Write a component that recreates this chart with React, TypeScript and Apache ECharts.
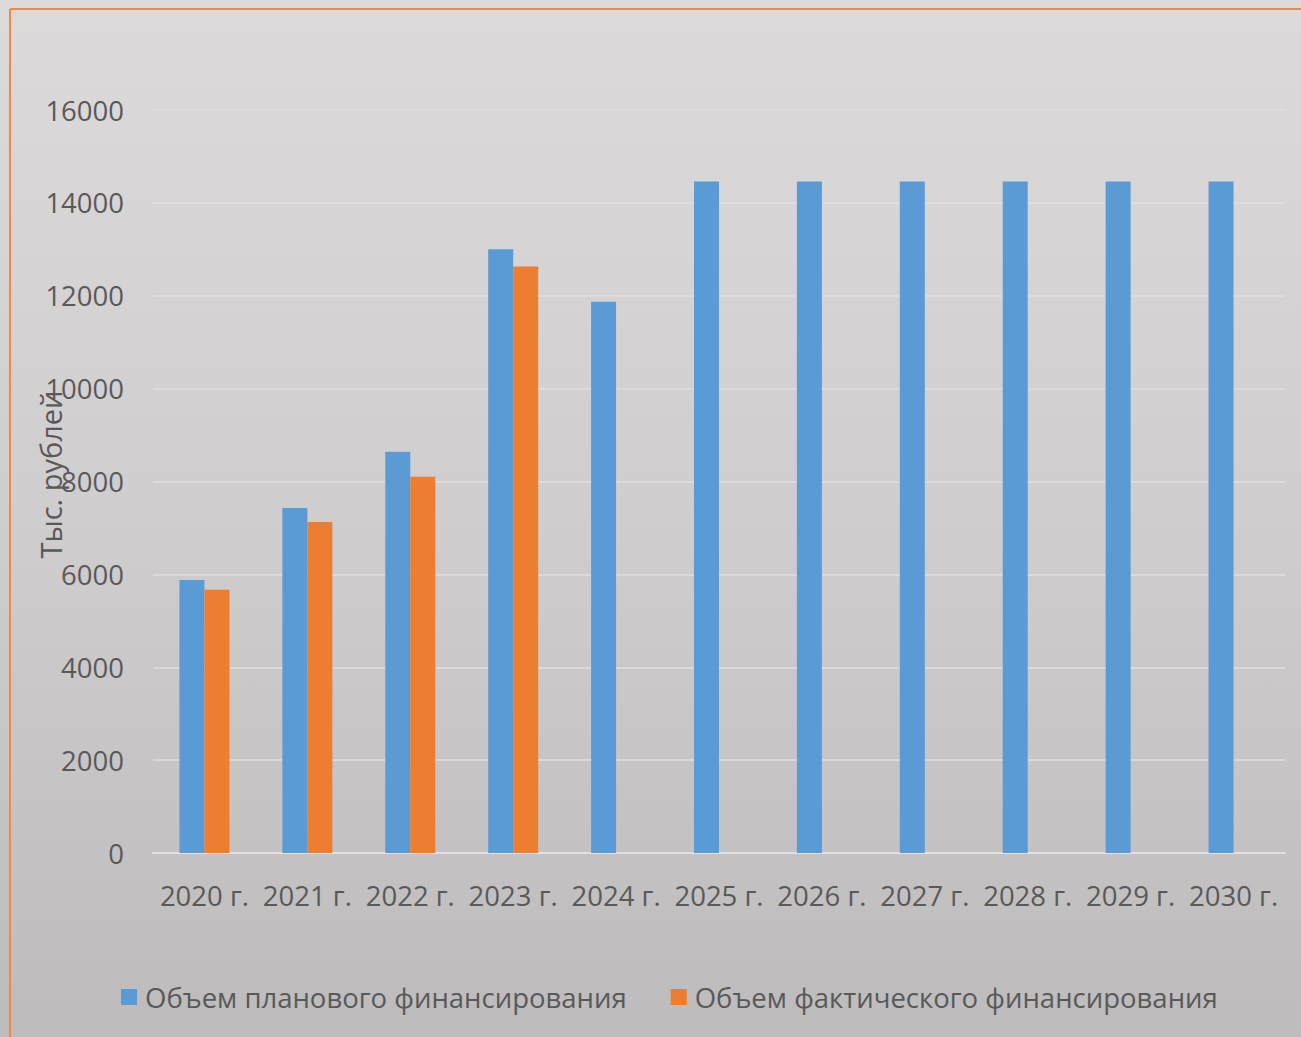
import React, { useEffect, useRef } from "react";
import * as echarts from "echarts";

const categories = ["2020 г.", "2021 г.", "2022 г.", "2023 г.", "2024 г.", "2025 г.", "2026 г.", "2027 г.", "2028 г.", "2029 г.", "2030 г."];
const planned = [5880, 7430, 8640, 13000, 11870, 14460, 14460, 14460, 14460, 14460, 14460];
const actual = [5670, 7130, 8100, 12630, null, null, null, null, null, null, null];
const seriesNames = ["Объем планового финансирования", "Объем фактического финансирования"];
const yAxisTitle = "Тыс. рублей";

const FONT = "'Open Sans', sans-serif";
const TEXT = "#595959";

export default function App() {
  const ref = useRef<HTMLDivElement>(null);
  useEffect(() => {
    const chart = echarts.init(ref.current!, null, { renderer: "svg" });
    chart.setOption({
      animation: false,
      backgroundColor: {
        type: "linear", x: 0, y: 0, x2: 0, y2: 1,
        colorStops: [
          { offset: 0, color: "#dcdadb" },
          { offset: 0.5, color: "#cfcdce" },
          { offset: 1, color: "#bdbbbc" },
        ],
      },
      graphic: [
        { type: "line", shape: { x1: 10, y1: 9, x2: 1301, y2: 9 }, style: { stroke: "#ee8a45", lineWidth: 2 } },
        { type: "line", shape: { x1: 10, y1: 9, x2: 10, y2: 1037 }, style: { stroke: "#ee8a45", lineWidth: 2 } },
      ],
      grid: { left: 153, right: 16, top: 110, bottom: 184, containLabel: false },
      legend: {
        left: 121,
        top: 983,
        padding: 0,
        itemWidth: 16,
        itemHeight: 16,
        itemGap: 44,
        icon: "rect",
        textStyle: { fontFamily: FONT, fontSize: 27.5, color: TEXT, padding: [0, 0, 0, 3] },
        data: seriesNames,
      },
      xAxis: {
        type: "category",
        data: categories,
        axisLine: { lineStyle: { color: "#e2e0e1", width: 2 } },
        axisTick: { show: false },
        axisLabel: { interval: 0, margin: 28, fontFamily: FONT, fontSize: 27.5, color: TEXT },
      },
      yAxis: {
        type: "value",
        min: 0,
        max: 16000,
        interval: 2000,
        name: yAxisTitle,
        nameLocation: "middle",
        nameGap: 88,
        nameRotate: 90,
        nameMoveOverlap: false,
        nameTextStyle: { fontFamily: FONT, fontSize: 29, color: TEXT, padding: [0, 0, 0, 14] },
        axisLine: { show: false },
        axisTick: { show: false },
        splitLine: { lineStyle: { color: "#e0dedf", width: 1.5 } },
        axisLabel: { margin: 29, fontFamily: FONT, fontSize: 27.5, color: TEXT, formatter: (v: number) => String(v) },
      },
      series: [
        { name: seriesNames[0], type: "bar", data: planned, barWidth: 25, barGap: "0%", itemStyle: { color: "#5b9bd5" } },
        { name: seriesNames[1], type: "bar", data: actual, barWidth: 25, barGap: "0%", itemStyle: { color: "#ed7d31" } },
      ],
    });
    return () => chart.dispose();
  }, []);
  return <div ref={ref} style={{ position: "fixed", left: 0, top: 0, width: 1301, height: 1037 }} />;
}
